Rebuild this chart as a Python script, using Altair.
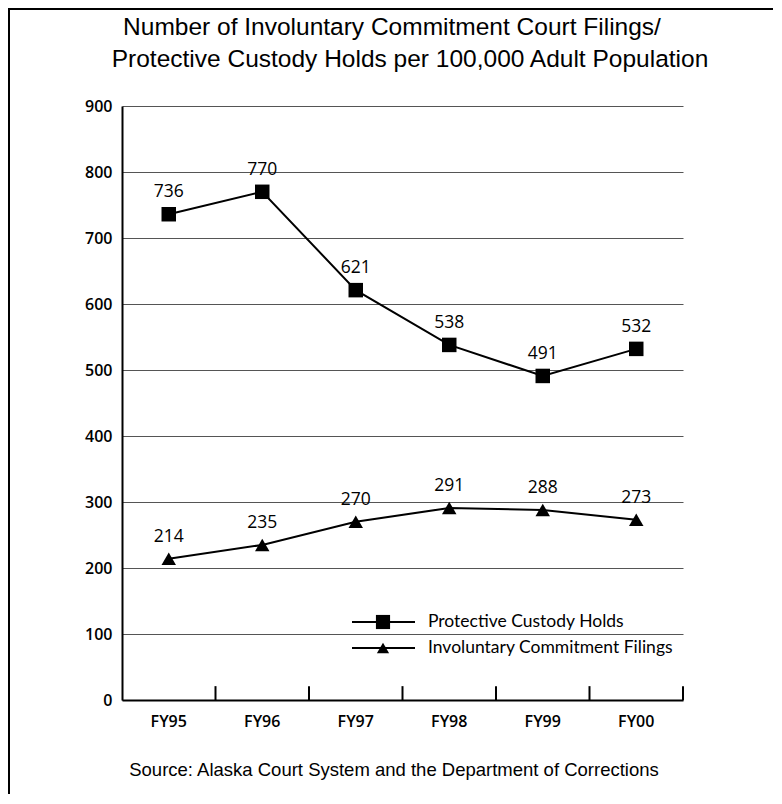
import altair as alt
import pandas as pd

years = ["FY95", "FY96", "FY97", "FY98", "FY99", "FY00"]
custody_holds = [736, 770, 621, 538, 491, 532]
commitment_filings = [214, 235, 270, 291, 288, 273]
series_names = ["Protective Custody Holds", "Involuntary Commitment Filings"]
y_ticks = [0, 100, 200, 300, 400, 500, 600, 700, 800, 900]
title_lines = ["Number of Involuntary Commitment Court Filings/",
               "Protective Custody Holds per 100,000 Adult Population"]
source_text = "Source: Alaska Court System and the Department of Corrections"

rows = []
for s, vals in zip(series_names, [custody_holds, commitment_filings]):
    for yr, v in zip(years, vals):
        rows.append({"year": yr, "value": v, "series": s})
df = pd.DataFrame(rows)
df_years = pd.DataFrame({"year": years})

W, H = 561, 594
PAD_L, PAD_T, PAD_R, PAD_B = 114, 98, 90, 94

label_font = "Open Sans"
legend_font = "Lato"

x = alt.X("year:N", sort=years, title=None,
          scale=alt.Scale(type="band", paddingInner=0, paddingOuter=0),
          axis=alt.Axis(labelAngle=0, ticks=False, domainColor="black", domainWidth=2,
                        labelFont=label_font, labelFontSize=16, labelFontWeight=600,
                        labelColor="black", labelPadding=13))
y = alt.Y("value:Q", title=None,
          scale=alt.Scale(domain=[0, 900], nice=False),
          axis=alt.Axis(values=y_ticks, ticks=False, domainColor="black", domainWidth=2,
                        grid=True, gridColor="#555555", gridWidth=1,
                        labelFont=label_font, labelFontSize=16, labelFontWeight=600,
                        labelColor="black", labelPadding=10))

shape_scale = alt.Scale(domain=series_names, range=["square", "triangle-up"])

base = alt.Chart(df)

lines = base.mark_line(color="black", strokeWidth=2).encode(x=x, y=y, detail="series:N")
points = base.mark_point(filled=True, color="black", opacity=1, size=210).encode(
    x=x, y=y, shape=alt.Shape("series:N", scale=shape_scale, legend=None))
labels = base.mark_text(dy=-22, fontSize=17.5, font=label_font, color="black").encode(
    x=x, y=y, text="value:Q")

ticks = alt.Chart(df_years).mark_rule(color="black", strokeWidth=2).encode(
    x=alt.X("year:N", sort=years, bandPosition=1),
    y=alt.datum(0), y2=alt.datum(21))

# legend drawn inside the plot
legend_layers = []
for i, s in enumerate(series_names):
    ypix = 516 + 26 * i
    d = pd.DataFrame({"series": [s]})
    legend_layers.append(alt.Chart(d).mark_rule(color="black", strokeWidth=2).encode(
        x=alt.value(230), x2=alt.value(293), y=alt.value(ypix)))
    legend_layers.append(alt.Chart(d).mark_point(filled=True, color="black", opacity=1,
                                                  size=200 if i == 0 else 150).encode(
        x=alt.value(261), y=alt.value(ypix),
        shape=alt.Shape("series:N", scale=shape_scale, legend=None)))
    legend_layers.append(alt.Chart(d).mark_text(align="left", baseline="middle",
                                                 font=legend_font, fontSize=17.5,
                                                 color="black").encode(
        x=alt.value(306), y=alt.value(ypix), text="series:N"))

title_x = [270, 288]
title_layers = []
for i, t in enumerate(title_lines):
    title_layers.append(alt.Chart(pd.DataFrame({"t": [t]})).mark_text(
        font="Liberation Sans", fontSize=24.5, color="black", align="center",
        baseline="middle").encode(x=alt.value(title_x[i]), y=alt.value(-78 + 32 * i),
                                  text="t:N"))

source = alt.Chart(pd.DataFrame({"t": [source_text]})).mark_text(
    font="Liberation Sans", fontSize=18.5, color="black", align="center",
    baseline="middle").encode(x=alt.value(272), y=alt.value(664), text="t:N")

frame_top = alt.Chart(df_years).mark_rule(color="black", strokeWidth=2).encode(
    x=alt.value(-PAD_L), x2=alt.value(W + PAD_R), y=alt.value(-PAD_T + 1))
frame_left = alt.Chart(df_years).mark_rule(color="black", strokeWidth=2).encode(
    x=alt.value(-PAD_L + 1), y=alt.value(-PAD_T), y2=alt.value(H + PAD_B))

chart = alt.layer(lines, points, labels, ticks, *legend_layers, *title_layers, source,
                  frame_top, frame_left).properties(
    width=W, height=H,
    autosize=alt.AutoSizeParams(type="none"),
    padding={"left": PAD_L, "top": PAD_T, "right": PAD_R, "bottom": PAD_B},
    background="white",
).configure_view(strokeWidth=0)

chart.save("out.html", embed_options={"renderer": "svg", "actions": False})
